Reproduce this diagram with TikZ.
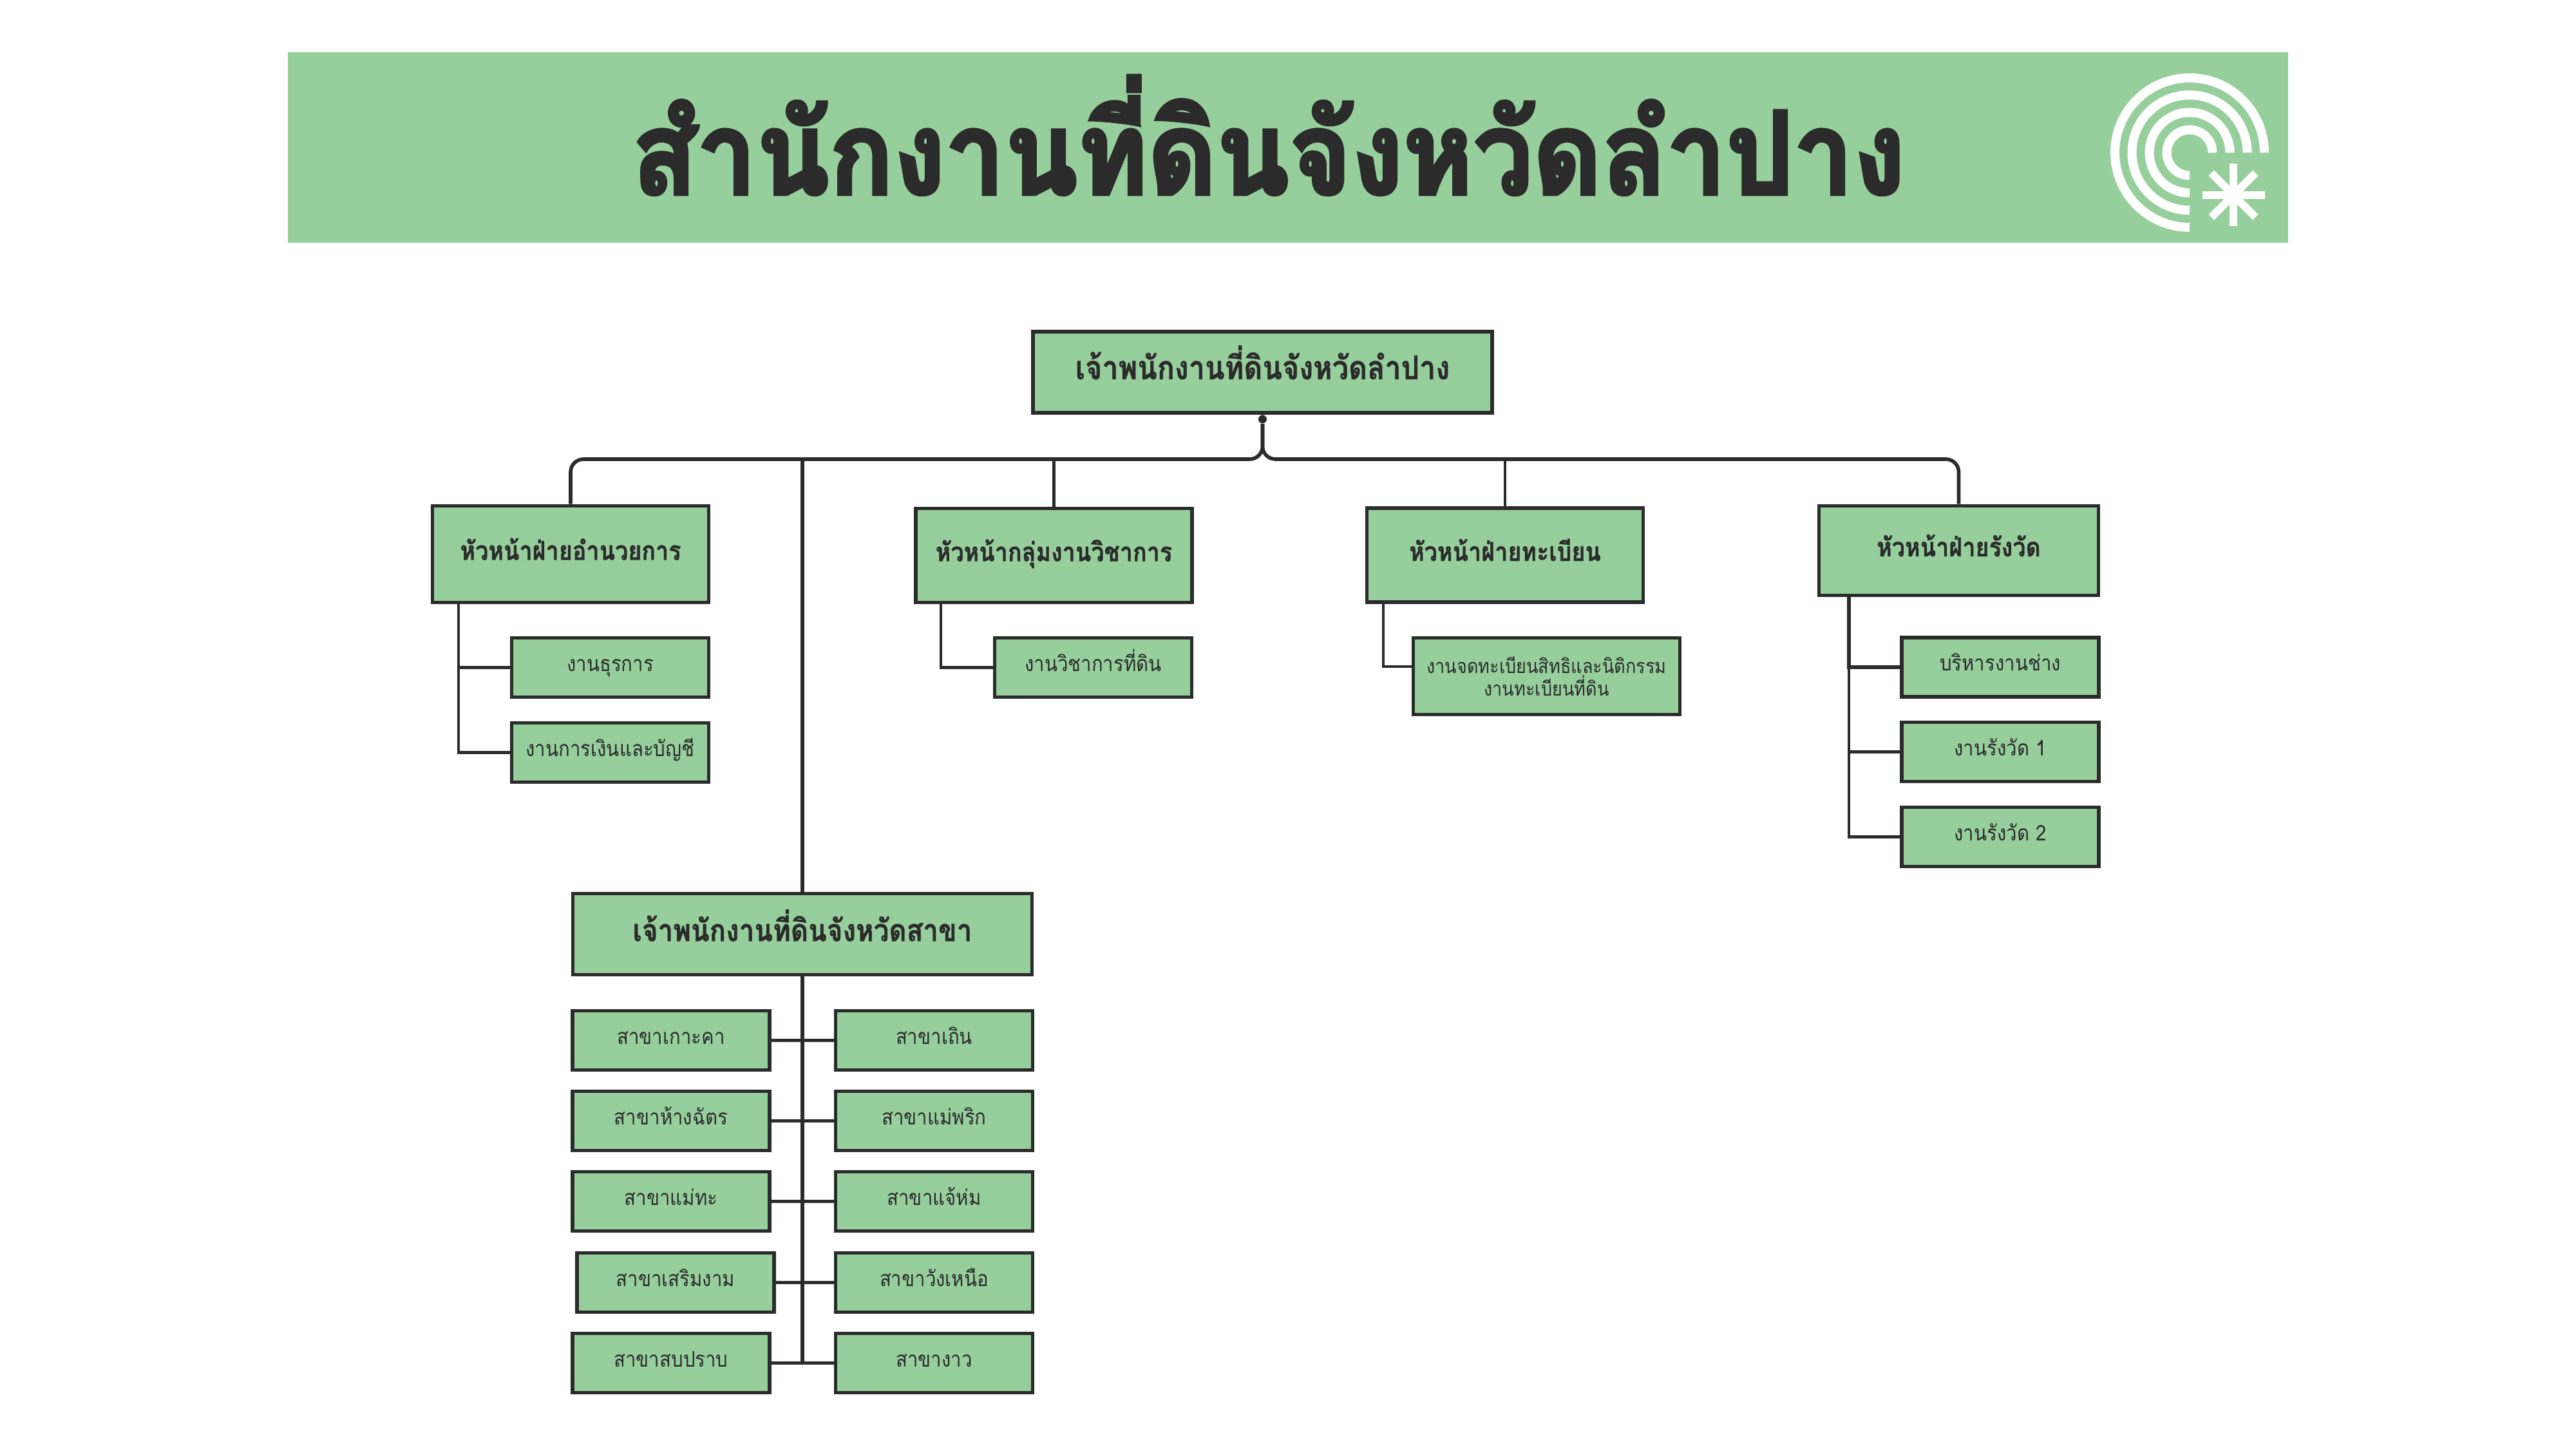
\documentclass[tikz,border=0pt]{standalone}
\usepackage{fontspec}
\newfontfamily\thaifont[Script=Thai,FakeStretch=0.88]{Loma}
\newfontfamily\thaibold[Script=Thai,FakeStretch=0.88,FakeBold=0.8]{Loma Bold}
\newfontfamily\thaiheavy[Script=Thai,FakeStretch=0.92,FakeBold=3]{Loma Bold}
\usetikzlibrary{calc, shapes.geometric}
\definecolor{leaf}{RGB}{150,207,156}
\definecolor{ink}{RGB}{43,43,43}
\tikzstyle{titlebar} = [rectangle, minimum width=31.06cm, minimum height=2.96cm, fill=leaf]
\tikzstyle{titletext} = [font=\thaiheavy\fontsize{51}{58}\selectfont, text=ink]
\tikzstyle{chief} = [rectangle, minimum width=7.13cm, minimum height=1.26cm, text centered, text height=0.3cm, text depth=0.08cm, draw=ink, line width=1.6pt, fill=leaf, text=ink, font=\thaibold\fontsize{13.6}{16}\selectfont]
\tikzstyle{head} = [rectangle, minimum width=4.29cm, minimum height=1.46cm, text centered, text height=0.25cm, text depth=0.07cm, draw=ink, line width=1.6pt, fill=leaf, text=ink, font=\thaibold\fontsize{11.6}{14}\selectfont]
\tikzstyle{unit} = [rectangle, minimum width=3.06cm, minimum height=0.92cm, text centered, text height=0.2cm, text depth=0.08cm, draw=ink, line width=1.5pt, fill=leaf, text=ink, font=\thaifont\fontsize{9.5}{11}\selectfont]
\tikzstyle{junction} = [circle, inner sep=0pt, minimum size=0.13cm, fill=ink]
\tikzstyle{line} = [draw=ink, line width=1.2pt]
\tikzstyle{busline} = [draw=ink, line width=1.6pt]
\tikzstyle{ring} = [draw=white, line width=0.14cm]
\tikzstyle{spoke} = [draw=white, line width=0.12cm]

\begin{document}
\begin{tikzpicture}[node distance=1.25cm]
	\useasboundingbox (0,0) rectangle (40,-22.5);
	\node(banner)[titlebar] at (19.995,-2.29) {};
	\node(title)[titletext] at (19.7,-2.1) {สำนักงานที่ดินจังหวัดลำปาง};
	% Logo
	\foreach \r in {0.355,0.625,0.895,1.16}
		\draw [ring] ($(34,-2.37)+(\r,0)$) arc (0:270:\r);
	\foreach \a in {0,45,...,135}
		\draw [spoke] ($(34.68,-3.03)+(\a:0.485)$) -- ($(34.68,-3.03)+(\a+180:0.485)$);
	% Provincial office
	\node(chiefmain)[chief, font=\thaibold\fontsize{14.5}{17}\selectfont] at (19.605,-5.78) {เจ้าพนักงานที่ดินจังหวัดลำปาง};
	\node(dot)[junction, below of=chiefmain, node distance=0.73cm] {};
	\coordinate[below of=chiefmain, node distance=1.35cm] (busjoint);
	\node(headadmin)[head, below of=chiefmain, node distance=2.825cm, xshift=-10.745cm, minimum height=1.5cm] {หัวหน้าฝ่ายอำนวยการ};
	\node(headtech)[head, below of=chiefmain, node distance=2.845cm, xshift=-3.24cm] {หัวหน้ากลุ่มงานวิชาการ};
	\node(headreg)[head, below of=chiefmain, node distance=2.84cm, xshift=3.765cm] {หัวหน้าฝ่ายทะเบียน};
	\node(headsurvey)[head, below of=chiefmain, node distance=2.77cm, xshift=10.81cm, minimum width=4.34cm, minimum height=1.39cm] {หัวหน้าฝ่ายรังวัด};
	% Units
	\node(general)[unit, below of=headadmin, node distance=1.76cm, xshift=0.615cm] {งานธุรการ};
	\node(finance)[unit, below of=general, node distance=1.32cm] {งานการเงินและบัญชี};
	\node(techland)[unit, below of=headtech, node distance=1.74cm, xshift=0.61cm] {งานวิชาการที่ดิน};
	\node(regland)[unit, below of=headreg, node distance=1.88cm, xshift=0.645cm, minimum width=4.14cm, minimum height=1.19cm, text height=, text depth=, align=center, font=\thaifont\fontsize{8.75}{10.2}\selectfont] {งานจดทะเบียนสิทธิและนิติกรรม\\งานทะเบียนที่ดิน};
	\node(workshop)[unit, below of=headsurvey, node distance=1.81cm, xshift=0.645cm] {บริหารงานช่าง};
	\node(surveya)[unit, below of=workshop, node distance=1.315cm] {งานรังวัด 1};
	\node(surveyb)[unit, below of=surveya, node distance=1.32cm] {งานรังวัด 2};
	% Branches
	\node(branch)[chief, below of=chiefmain, node distance=8.725cm, xshift=-7.145cm] {เจ้าพนักงานที่ดินจังหวัดสาขา};
	\node(kokha)[unit, below of=branch, node distance=1.65cm, xshift=-2.04cm] {สาขาเกาะคา};
	\node(thoen)[unit, below of=branch, node distance=1.65cm, xshift=2.045cm] {สาขาเถิน};
	\node(hangchat)[unit, below of=kokha] {สาขาห้างฉัตร};
	\node(maephrik)[unit, below of=thoen] {สาขาแม่พริก};
	\node(maetha)[unit, below of=hangchat] {สาขาแม่ทะ};
	\node(chaehom)[unit, below of=maephrik] {สาขาแจ้ห่ม};
	\node(soem)[unit, below of=maetha, xshift=0.07cm, yshift=-0.01cm] {สาขาเสริมงาม};
	\node(wangnuea)[unit, below of=chaehom, yshift=-0.01cm] {สาขาวังเหนือ};
	\node(sopprap)[unit, below of=soem, xshift=-0.07cm] {สาขาสบปราบ};
	\node(ngao)[unit, below of=wangnuea] {สาขางาว};
	\coordinate (stemadmin) at ([xshift=0.43cm]headadmin.south west);
	\coordinate (stemtech) at ([xshift=0.42cm]headtech.south west);
	\coordinate (stemreg) at ([xshift=0.28cm]headreg.south west);
	\coordinate (stemsurvey) at ([xshift=0.49cm]headsurvey.south west);
	% Connectors
	\draw [busline] (chiefmain) -- (dot);
	\draw [busline, rounded corners=0.2cm] (dot) -- (busjoint) -| (headadmin);
	\draw [busline, rounded corners=0.2cm] (dot) -- (busjoint) -| (headsurvey);
	\draw [line] (busjoint -| headtech) -- (headtech);
	\draw [line] (busjoint -| headreg) -- (headreg);
	\draw [busline] (busjoint -| branch) -- (branch);
	\draw [line] (stemadmin) |- (general);
	\draw [line] (stemadmin) |- (finance);
	\draw [line] (stemtech) |- (techland);
	\draw [line] (stemreg) |- ([yshift=0.15cm]regland.west);
	\draw [busline] (stemsurvey) |- (workshop);
	\draw [line] (stemsurvey) |- (surveya);
	\draw [line] (stemsurvey) |- (surveyb);
	\draw [busline] (branch) -- (branch |- ngao);
	\draw [line] (kokha) -- (thoen);
	\draw [line] (hangchat) -- (maephrik);
	\draw [line] (maetha) -- (chaehom);
	\draw [line] (soem) -- (wangnuea);
	\draw [line] (sopprap) -- (ngao);
\end{tikzpicture}
\end{document}
